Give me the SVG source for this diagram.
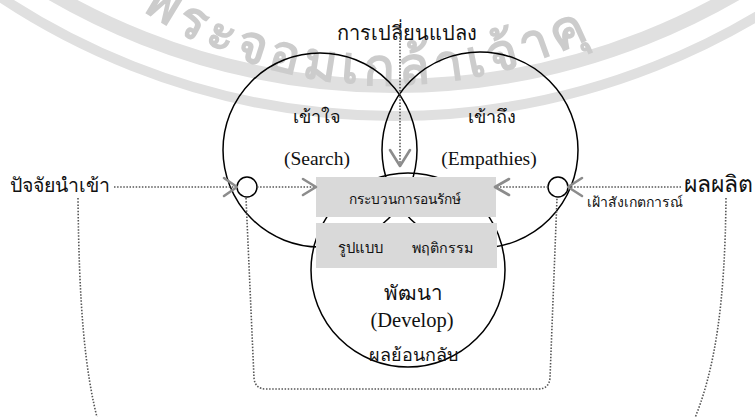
<svg xmlns="http://www.w3.org/2000/svg" width="755" height="417" viewBox="0 0 755 417">
<style>
.c{fill:none;stroke:#000;stroke-width:1.5}
.d{fill:none;stroke:#555;stroke-width:1.6;stroke-dasharray:1.5 1.6}
.ch{fill:none;stroke:#8c8c8c;stroke-width:2.6;stroke-linecap:round;stroke-linejoin:round}
.t{font-family:"Liberation Serif","DejaVu Serif",serif;fill:#111;text-anchor:middle}
.box{fill:#d9d9d9}
.wm{fill:none;stroke:#e0e0e0}
</style>
<defs>
<path id="wmpath" d="M 100,-20.9 A 450 450 0 0 0 680,-20.9"/>
</defs>
<rect width="755" height="417" fill="#fff"/>
<g id="watermark">
<circle class="wm" cx="394" cy="-594" r="680" stroke-width="14"/>
<circle class="wm" cx="394" cy="-594" r="710" stroke-width="10"/>
<text font-family="'Noto Sans','DejaVu Sans',sans-serif" font-weight="bold" font-size="52" fill="#cccccc" letter-spacing="5"><textPath href="#wmpath" startOffset="50">พระจอมเกล้าเจ้าคุ</textPath></text>
</g>
<g id="search">
<circle class="c" cx="320" cy="150" r="97"/>
<text class="t" x="317" y="123" font-size="18">เข้าใจ</text>
<text class="t" x="317" y="165" font-size="19.5">(Search)</text>
</g>
<g id="empathies">
<circle class="c" cx="480" cy="150" r="98"/>
<text class="t" x="492" y="123" font-size="18">เข้าถึง</text>
<text class="t" x="489" y="165" font-size="19.5">(Empathies)</text>
</g>
<g id="develop">
<circle class="c" cx="408" cy="270" r="97"/>
<text class="t" x="413" y="300" font-size="20.5">พัฒนา</text>
<text class="t" x="412" y="327" font-size="20.5">(Develop)</text>
<text class="t" x="413" y="361" font-size="18">ผลย้อนกลับ</text>
</g>
<g id="process">
<rect class="box" x="316" y="177" width="180" height="40"/>
<text class="t" x="405" y="204" font-size="13.7" fill="#333">กระบวนการอนรักษ์</text>
</g>
<g id="pattern">
<rect class="box" x="316" y="223" width="181" height="45"/>
<text class="t" x="360" y="253" font-size="14.8">รูปแบบ</text>
<text class="t" x="442" y="253" font-size="14.3">พฤติกรรม</text>
</g>
<g id="change">
<text class="t" x="407" y="40" font-size="20">การเปลี่ยนแปลง</text>
</g>
<g id="input">
<text class="t" x="60" y="192" font-size="19.5">ปัจจัยนำเข้า</text>
<circle class="c" cx="247" cy="187" r="10" fill="#fff"/>
</g>
<g id="output">
<text class="t" x="718" y="192" font-size="23">ผลผลิต</text>
<circle class="c" cx="558" cy="187" r="10" fill="#fff"/>
<text class="t" x="635" y="207" font-size="14" fill="#444">เฝ้าสังเกตการณ์</text>
</g>
<g id="connectors">
<path class="d" d="M400,28 V165"/>
<path class="ch" d="M390,150 L400,166 L410,150"/>
<path class="d" d="M114,187 H237"/>
<path class="ch" d="M224,178 L237,187 L224,196"/>
<path class="d" d="M257,187 H315"/>
<path class="ch" d="M303,179 L316,187 L303,195"/>
<path class="d" d="M681,187 H568"/>
<path class="ch" d="M582,178 L568,187 L582,196"/>
<path class="d" d="M548,187 H496"/>
<path class="ch" d="M509,179 L495,187 L509,195"/>
<path class="d" d="M246,198 L254,378 Q255,389 266,389 L538,389 Q549,389 550,378 L557,198"/>
<path class="d" d="M78,198 C79,300 84,370 99,425"/>
<path class="d" d="M726,198 C725,300 716,370 692,425"/>
</g>
</svg>
